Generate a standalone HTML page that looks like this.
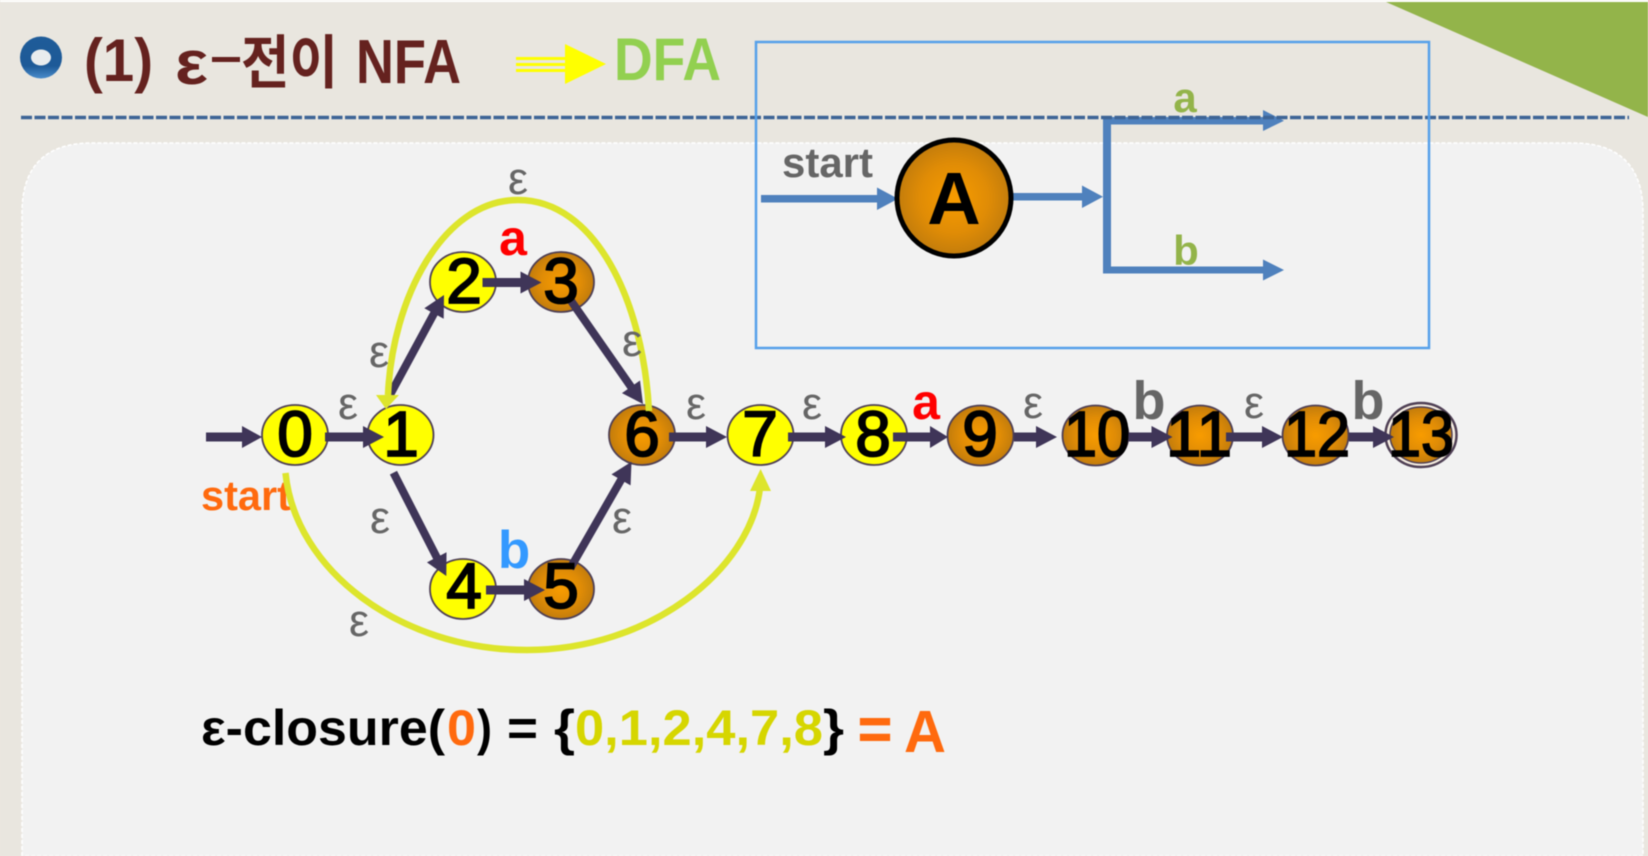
<!DOCTYPE html>
<html><head><meta charset="utf-8"><style>
html,body{margin:0;padding:0;background:#e9e6df;width:1648px;height:856px;overflow:hidden}
svg{display:block;filter:blur(.5px)}
text{font-family:"Liberation Sans","Noto Sans CJK KR",sans-serif}
.d{font-size:64px;text-anchor:middle;fill:#000;stroke:#000;stroke-width:1.800px}
.e{font-size:45px;text-anchor:middle;fill:#666}
.n{stroke:#4f4055;stroke-width:1.8}
.ar path{fill:#3f3558}
.bl path{fill:#4f81bd}
</style></head><body>
<svg width="1648" height="856" viewBox="0 0 1648 856" xmlns="http://www.w3.org/2000/svg">
<defs>
<radialGradient id="o"><stop offset="0" stop-color="#f89c00"/><stop offset=".6" stop-color="#e08c06"/><stop offset="1" stop-color="#c27c0c"/></radialGradient>
<linearGradient id="bu" x1="0" y1="0" x2="0" y2="1"><stop offset="0" stop-color="#1f5c99"/><stop offset=".7" stop-color="#1d5a98"/><stop offset="1" stop-color="#4a8ccb"/></linearGradient>
</defs>
<rect width="1648" height="856" fill="#e9e6df"/>
<rect width="1648" height="2" fill="#fff"/>
<path d="M1386 2H1648V117Z" fill="#93b44a"/>
<path d="M22 856V213Q22 143 92 143H1573Q1643 143 1643 213V856Z" fill="#f2f2f2" stroke="#fff" stroke-width="1.5" stroke-dasharray="4 2"/>

<ellipse cx="41" cy="57.500" rx="21" ry="21" fill="url(#bu)"/>
<ellipse cx="41" cy="57.500" rx="10" ry="8" fill="#e8ecee"/>
<g font-weight="bold" fill="#65221f">
<text x="84" y="81" font-size="60" textLength="69" lengthAdjust="spacingAndGlyphs">(1)</text>
<text x="175" y="84" font-size="62" textLength="33" lengthAdjust="spacingAndGlyphs">ε</text>
<rect x="212" y="57" width="28" height="5"/>
<text x="241" y="83" font-size="58" textLength="97" lengthAdjust="spacingAndGlyphs">전이</text>
<text x="356" y="83" font-size="62" textLength="105" lengthAdjust="spacingAndGlyphs">NFA</text>
</g>
<g fill="#ffff00">
<path d="M565 44L606 64L565 84Z"/>
<rect x="516" y="57" width="50" height="3"/><rect x="516" y="63" width="50" height="3"/><rect x="516" y="69" width="50" height="3"/>
</g>
<text x="614" y="80" font-size="60" font-weight="bold" fill="#92d050" textLength="107" lengthAdjust="spacingAndGlyphs">DFA</text>

<g class="bl">
<path d="M761 195H877V187.500L898 198.700 877 210V202.500H761Z"/>
<path d="M1012 193H1082V185.500L1103 196.700 1082 208V200.500H1012Z"/>
<path d="M1103 117H1263V110L1284 120.700 1263 131V124.500H1111V266.500H1263V259.500L1284 270 1263 280.500V273.500H1103Z"/>
</g>
<line x1="21" y1="117.500" x2="1629" y2="117.500" stroke="#3d6496" stroke-width="3.500" stroke-dasharray="11 2.500"/>
<rect x="756" y="42" width="673" height="306" fill="none" stroke="#56a0ea" stroke-width="2.500"/>
<ellipse cx="954" cy="198" rx="57" ry="58" fill="url(#o)" stroke="#000" stroke-width="5"/>
<text x="954" y="224" font-size="74" font-weight="bold" text-anchor="middle">A</text>
<text x="782" y="177" font-size="42" font-weight="bold" fill="#666" textLength="91" lengthAdjust="spacingAndGlyphs">start</text>
<text x="1185" y="112" font-size="42" font-weight="bold" fill="#93b44a" text-anchor="middle">a</text>
<text x="1186" y="265" font-size="42" font-weight="bold" fill="#93b44a" text-anchor="middle">b</text>

<g class="n">
<ellipse cx="295" cy="435" rx="33" ry="30" fill="#ffff00"/>
<ellipse cx="400.500" cy="435" rx="33" ry="30" fill="#ffff00"/>
<ellipse cx="463" cy="282" rx="33" ry="30" fill="#ffff00"/>
<ellipse cx="561" cy="282" rx="33" ry="30" fill="url(#o)"/>
<ellipse cx="463" cy="589" rx="33" ry="30" fill="#ffff00"/>
<ellipse cx="561" cy="589" rx="33" ry="30" fill="url(#o)"/>
<ellipse cx="642" cy="435" rx="33" ry="30" fill="url(#o)"/>
<ellipse cx="760.500" cy="435" rx="33" ry="30" fill="#ffff00"/>
<ellipse cx="874" cy="435" rx="33" ry="30" fill="#ffff00"/>
<ellipse cx="980.500" cy="435.500" rx="33" ry="30" fill="url(#o)"/>
<ellipse cx="1095.500" cy="435.500" rx="33" ry="30" fill="url(#o)"/>
<ellipse cx="1200" cy="435.500" rx="33" ry="30" fill="url(#o)"/>
<ellipse cx="1315.500" cy="435.500" rx="33" ry="30" fill="url(#o)"/>
<ellipse cx="1421" cy="435" rx="35.500" ry="32" fill="#f7efe2" stroke-width="2.500"/>
<ellipse cx="1421" cy="435" rx="31" ry="28" fill="url(#o)" stroke-width="1.500"/>
</g>

<g class="ar">
<path transform="translate(262 437)" d="M-56 -4.500H-20V-11L0 0-20 11V4.500H-56Z"/>
<path transform="translate(384 437)" d="M-59 -4.500H-21V-11L0 0-21 11V4.500H-59Z"/>
<path transform="translate(727 437)" d="M-58 -4.500H-21V-11L0 0-21 11V4.500H-58Z"/>
<path transform="translate(846 437)" d="M-58 -4.500H-21V-11L0 0-21 11V4.500H-58Z"/>
<path transform="translate(948 437)" d="M-55 -4.500H-18V-11L0 0-18 11V4.500H-55Z"/>
<path transform="translate(541.500 282.500)" d="M-59 -4.500H-21V-11L0 0-21 11V4.500H-59Z"/>
<path transform="translate(545 590)" d="M-59 -4.500H-21V-11L0 0-21 11V4.500H-59Z"/>
<path transform="translate(1057 437)" d="M-43 -4.500H-21V-11L0 0-21 11V4.500H-43Z"/>
<path transform="translate(1172.500 437)" d="M-44 -4.500H-21V-11L0 0-21 11V4.500H-44Z"/>
<path transform="translate(1283 437)" d="M-57 -4.500H-21V-11L0 0-21 11V4.500H-57Z"/>
<path transform="translate(1394 437)" d="M-45 -4.500H-21V-11L0 0-21 11V4.500H-45Z"/>
<path transform="translate(444 295) rotate(-61.6)" d="M-114 -4H-21V-11L0 0-21 11V4H-114Z"/>
<path transform="translate(643 404) rotate(55.1)" d="M-127 -4H-21V-11L0 0-21 11V4H-127Z"/>
<path transform="translate(446.300 576) rotate(62.9)" d="M-116 -4H-21V-11L0 0-21 11V4H-116Z"/>
<path transform="translate(631.500 461.700) rotate(-60.1)" d="M-123 -4H-21V-11L0 0-21 11V4H-123Z"/>
</g>

<text class="d" x="295" y="456">0</text>
<text class="d" x="401" y="456">1</text>
<text class="d" x="464" y="303">2</text>
<text class="d" x="561" y="303">3</text>
<text class="d" x="464" y="608">4</text>
<text class="d" x="561" y="608">5</text>
<text class="d" x="642" y="456">6</text>
<text class="d" x="760" y="456">7</text>
<text class="d" x="873" y="456">8</text>
<text class="d" x="980" y="456">9</text>
<text class="d" x="1097" y="456" textLength="66" lengthAdjust="spacingAndGlyphs">10</text>
<text class="d" x="1199" y="456" textLength="66" lengthAdjust="spacingAndGlyphs">11</text>
<text class="d" x="1317" y="456" textLength="66" lengthAdjust="spacingAndGlyphs">12</text>
<text class="d" x="1421" y="456" textLength="66" lengthAdjust="spacingAndGlyphs">13</text>

<text x="201" y="510" font-size="42" font-weight="bold" fill="#ff6a0e" textLength="90" lengthAdjust="spacingAndGlyphs">start</text>

<g fill="none" stroke="#dde52c" stroke-width="6.500">
<path d="M649 411C643 300 595 200 518 200C442 200 392 300 388 395"/>
<path d="M285.500 473C295 570 400 650 527 650C650 650 750 570 760 488"/>
</g>
<g fill="#dde52c">
<path d="M386 409L376 395H399Z"/>
<path d="M760.600 469L750 491H771Z"/>
</g>

<text class="e" x="518" y="194">ε</text>
<text class="e" x="379" y="367">ε</text>
<text class="e" x="632" y="356">ε</text>
<text class="e" x="348" y="419">ε</text>
<text class="e" x="696" y="419">ε</text>
<text class="e" x="812" y="419">ε</text>
<text class="e" x="1033" y="418">ε</text>
<text class="e" x="1254" y="418">ε</text>
<text class="e" x="380" y="533">ε</text>
<text class="e" x="622" y="533">ε</text>
<text class="e" x="359" y="636">ε</text>

<g font-weight="bold" text-anchor="middle">
<text x="513" y="255" font-size="50" fill="#ff0000">a</text>
<text x="926" y="419" font-size="50" fill="#ff0000">a</text>
<text x="514" y="568" font-size="53" fill="#3399ff">b</text>
<text x="1149" y="419" font-size="54" fill="#666">b</text>
<text x="1368" y="419" font-size="54" fill="#666">b</text>
</g>

<g font-weight="bold" font-size="50">
<text x="201" y="745" textLength="244" lengthAdjust="spacingAndGlyphs">ε-closure(</text>
<text x="447" y="745" fill="#ff6a0e" textLength="29" lengthAdjust="spacingAndGlyphs">0</text>
<text x="477" y="745" textLength="15" lengthAdjust="spacingAndGlyphs">)</text>
<text x="507" y="745" textLength="31" lengthAdjust="spacingAndGlyphs">=</text>
<text x="554" y="745" textLength="21" lengthAdjust="spacingAndGlyphs">{</text>
<text x="575" y="745" fill="#d6d600" textLength="248" lengthAdjust="spacingAndGlyphs">0,1,2,4,7,8</text>
<text x="823" y="745" textLength="21" lengthAdjust="spacingAndGlyphs">}</text>
<text x="858" y="749" font-size="58" fill="#ff6a0e" stroke="#ff6a0e" stroke-width="1" textLength="34" lengthAdjust="spacingAndGlyphs">=</text>
<text x="904" y="752" font-size="59" fill="#ff6a0e" textLength="42" lengthAdjust="spacingAndGlyphs">A</text>
</g>
</svg>
</body></html>
